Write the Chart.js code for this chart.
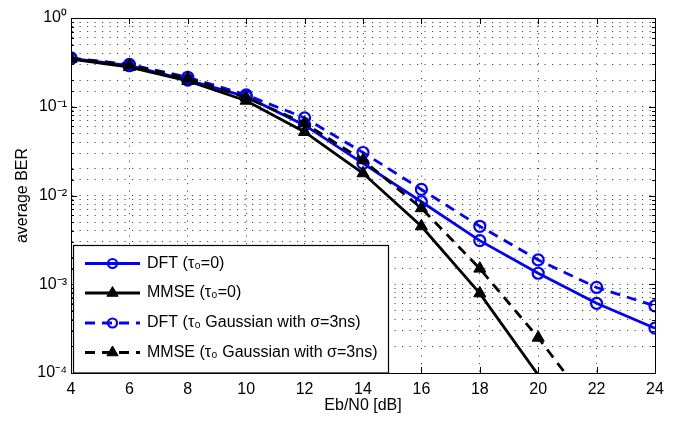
<!DOCTYPE html>
<html>
<head>
<meta charset="utf-8">
<script src="https://cdn.jsdelivr.net/npm/chart.js@4/dist/chart.umd.min.js"></script>
<style>
  html, body { margin: 0; padding: 0; background: #fff; }
  #wrap { width: 675px; height: 421px; }
</style>
</head>
<body>
<div id="wrap"><canvas id="berChart"></canvas></div>
<script>
// Eb/N0 values (dB)
const ebN0 = [4, 6, 8, 10, 12, 14, 16, 18, 20, 22, 24];

// average BER
const dftIdeal   = [0.35, 0.29, 0.20, 0.13, 0.062, 0.023, 0.0085, 0.0031, 0.00133, 0.00061, 0.00032];
const mmseIdeal  = [0.345, 0.28, 0.195, 0.117, 0.052, 0.0178, 0.0045, 0.00079, 0.000095, null, null];
const dftGauss   = [0.355, 0.30, 0.215, 0.136, 0.075, 0.0305, 0.0117, 0.0045, 0.00188, 0.00092, 0.00057];
const mmseGauss  = [0.35, 0.295, 0.21, 0.127, 0.065, 0.025, 0.0072, 0.0015, 0.00025, 0.000034, null];

const seriesNames = [
    'DFT (τ₀=0)',
    'MMSE (τ₀=0)',
    'DFT (τ₀ Gaussian with σ=3ns)',
    'MMSE (τ₀ Gaussian with σ=3ns)'
];

// y tick labels for the decades 1e-4 .. 1e0
const decadeLabels = ['10⁻⁴', '10⁻³', '10⁻²', '10⁻¹', '10⁰'];
const yMin = 1e-4;
const yMax = 1;

const FONT = "'Liberation Sans', Arial, Helvetica, sans-serif";
Chart.defaults.font.family = FONT;
Chart.defaults.font.size = 16;
Chart.defaults.color = '#000';

function toPoints(values) {
    return ebN0.map((x, i) => ({ x: x, y: values[i] }));
}

// markers whose point is outside the axes are not drawn (like matlab)
function radiusFor(r) {
    return ctx => (ctx.raw && ctx.raw.y !== null && ctx.raw.y < yMin) ? 0 : r;
}

function makeSet(label, values, color, dashed, marker, order) {
    const tri = marker === 'triangle';
    return {
        label: label,
        data: toPoints(values),
        borderColor: color,
        borderWidth: 2.8,
        borderDash: dashed ? [10, 7] : [],
        tension: 0,
        spanGaps: false,
        pointStyle: marker,
        pointRadius: radiusFor(tri ? 7 : 5.5),
        pointBorderWidth: tri ? 1 : 2.2,
        pointBorderColor: color,
        pointBackgroundColor: tri ? color : 'rgba(0,0,0,0)',
        clip: 0,
        order: order
    };
}

const datasets = [
    makeSet(seriesNames[0], dftIdeal, '#0000ff', false, 'circle', 3),
    makeSet(seriesNames[1], mmseIdeal, '#000000', false, 'triangle', 2),
    makeSet(seriesNames[2], dftGauss, '#0000ff', true, 'circle', 1),
    makeSet(seriesNames[3], mmseGauss, '#000000', true, 'triangle', 0)
];

function isDecade(v) {
    const l = Math.log10(v);
    return Math.abs(l - Math.round(l)) < 1e-9;
}

// box around the axes + inward tick marks
const axesBox = {
    id: 'axesBox',
    afterDatasetsDraw(chart) {
        const ctx = chart.ctx;
        const a = chart.chartArea;
        const xs = chart.scales.x;
        const ys = chart.scales.y;
        ctx.save();
        ctx.strokeStyle = '#000';
        ctx.lineWidth = 1;
        ctx.setLineDash([]);
        ctx.beginPath();
        xs.ticks.forEach(t => {
            const px = Math.round(xs.getPixelForValue(t.value)) + 0.5;
            ctx.moveTo(px, a.bottom); ctx.lineTo(px, a.bottom - 6);
            ctx.moveTo(px, a.top); ctx.lineTo(px, a.top + 6);
        });
        ys.ticks.forEach(t => {
            const py = Math.round(ys.getPixelForValue(t.value)) + 0.5;
            const len = isDecade(t.value) ? 6 : 3;
            ctx.moveTo(a.left, py); ctx.lineTo(a.left + len, py);
            ctx.moveTo(a.right, py); ctx.lineTo(a.right - len, py);
        });
        ctx.stroke();
        ctx.strokeRect(Math.round(a.left) + 0.5, Math.round(a.top) + 0.5,
            Math.round(a.right - a.left), Math.round(a.bottom - a.top));
        ctx.restore();
    }
};

// matlab style legend box in the lower left corner
const boxLegend = {
    id: 'boxLegend',
    afterDraw(chart) {
        const ctx = chart.ctx;
        const a = chart.chartArea;
        const left = a.left + 2.5, top = 245.5, right = 388.5, bottom = a.bottom;
        const rowY = [263.5, 293, 323, 352.5];
        ctx.save();
        ctx.fillStyle = '#fff';
        ctx.fillRect(left, top, right - left, bottom - top);
        ctx.strokeStyle = '#000';
        ctx.lineWidth = 1.2;
        ctx.strokeRect(left, top, right - left, bottom - top);
        chart.data.datasets.forEach((ds, i) => {
            const y = rowY[i];
            ctx.strokeStyle = ds.borderColor;
            ctx.lineWidth = ds.borderWidth;
            ctx.setLineDash(ds.borderDash);
            ctx.lineDashOffset = 0;
            ctx.beginPath();
            ctx.moveTo(85, y);
            ctx.lineTo(140, y);
            ctx.stroke();
            ctx.setLineDash([]);
            const tri = ds.pointStyle === 'triangle';
            ctx.fillStyle = ds.pointBackgroundColor;
            ctx.strokeStyle = ds.pointBorderColor;
            ctx.lineWidth = ds.pointBorderWidth;
            ctx.beginPath();
            if (tri) {
                const r = 6.5;
                ctx.moveTo(112.5, y - r);
                ctx.lineTo(112.5 + r * 0.866, y + r / 2);
                ctx.lineTo(112.5 - r * 0.866, y + r / 2);
                ctx.closePath();
            } else {
                ctx.arc(112.5, y, 4.5, 0, Math.PI * 2);
            }
            ctx.fill();
            ctx.stroke();
            ctx.fillStyle = '#000';
            ctx.font = '16px ' + FONT;
            ctx.textBaseline = 'middle';
            ctx.textAlign = 'left';
            ctx.fillText(ds.label, 147, y);
        });
        ctx.restore();
    }
};

const gridDots = {
    color: 'rgba(0,0,0,0.7)',
    lineWidth: 1,
    drawTicks: false
};

new Chart(document.getElementById('berChart'), {
    type: 'line',
    data: { datasets: datasets },
    options: {
        responsive: true,
        maintainAspectRatio: false,
        animation: false,
        events: [],
        layout: { padding: { left: 0, right: 20, top: 18, bottom: 0 } },
        plugins: {
            legend: { display: false },
            tooltip: { enabled: false }
        },
        scales: {
            x: {
                type: 'linear',
                min: 4,
                max: 24,
                afterFit: s => { s.height = 48; },
                border: { display: true, color: '#000', width: 1, dash: [1.2, 6.3] },
                grid: gridDots,
                ticks: { stepSize: 2, padding: 7, maxRotation: 0 },
                title: { display: true, text: 'Eb/N0 [dB]', padding: { top: 0, bottom: 6 } }
            },
            y: {
                type: 'logarithmic',
                min: yMin,
                max: yMax,
                afterFit: s => { s.width = 71; },
                border: { display: true, color: '#000', width: 1, dash: [1.2, 6.3] },
                grid: gridDots,
                ticks: {
                    autoSkip: false,
                    padding: 4,
                    callback: v => isDecade(v) ? decadeLabels[Math.round(Math.log10(v)) + 4] : ''
                },
                title: { display: true, text: 'average BER', padding: { top: 13, bottom: 0 } }
            }
        }
    },
    plugins: [axesBox, boxLegend]
});
</script>
</body>
</html>
